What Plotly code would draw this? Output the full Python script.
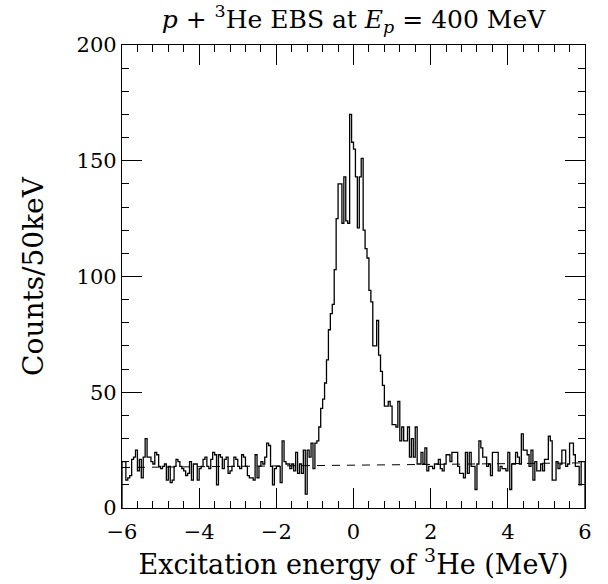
import numpy as np
import plotly.graph_objects as go

# ---- data -------------------------------------------------------------
# 50 keV bins from -6 MeV to +6 MeV (left edges), counts per bin
bin_width_mev = 0.05
energy_min, energy_max = -6.0, 6.0

counts_left_bg = [
    20, 20, 12, 13, 14, 21, 22, 25, 16, 21,
    13, 22, 30, 22, 22, 20, 19, 24, 23, 18,
    17, 18, 19, 12, 18, 11, 12, 18, 21, 20,
    18, 17, 16, 14, 15, 20, 12, 19, 19, 12,
    17, 18, 21, 22, 18, 17, 21, 24, 23, 10,
    23, 22, 17, 21, 22, 15, 16, 18, 22, 21,
    18, 17, 23, 22, 18, 14, 13, 13, 12, 23,
    13, 18, 20, 19, 22, 28, 27, 18, 10, 17,
    18, 18, 11, 29, 20, 19, 19,
]
counts_peak = [
    17, 19, 16, 24, 15, 19, 15, 25, 6, 25,
    22, 28, 17, 28, 29, 35, 43, 47, 54, 64,
    77, 84, 88, 103, 125, 140, 140, 123, 143, 124,
    123, 170, 158, 155, 143, 121, 143, 151, 120, 112,
    108, 94, 89,
]
counts_right_tail = [
    70, 70, 81, 66, 59, 53, 44, 44, 46, 44,
    36, 36, 35, 46, 29, 35, 29, 29, 35, 22,
    30, 22, 35, 19, 19, 24, 19, 26, 16, 18,
]
counts_right_bg = [
    18, 17, 19, 19, 21, 17, 16, 19, 23, 23,
    20, 24, 24, 24, 18, 15, 15, 13, 24, 15,
    24, 18, 18, 8, 19, 29, 26, 22, 22, 18,
    19, 14, 24, 24, 24, 16, 18, 17, 17, 16,
    24, 8, 19, 19, 24, 22, 19, 32, 25, 25,
    23, 18, 25, 12, 20, 16, 16, 19, 16, 21,
    21, 31, 29, 12, 12, 20, 17, 19, 25, 25,
    18, 19, 28, 28, 23, 18, 18, 10, 20, 20,
]

# fitted background (dashed line)
background_energy = [-6.0, 6.0]
background_counts = [17.5, 19.5]

# ---- build step histogram -------------------------------------------
counts = counts_left_bg + counts_peak + counts_right_tail + counts_right_bg
n_bins = len(counts)
edges = np.round(np.linspace(energy_min, energy_max, n_bins + 1), 4)

step_x = [energy_min] + list(edges[:-1]) + [energy_max, energy_max]
step_y = [0] + counts + [counts[-1], 0]

FONT = "DejaVu Serif"

fig = go.Figure()
fig.add_trace(go.Scatter(
    x=background_energy, y=background_counts, mode="lines",
    line=dict(color="black", width=1, dash="8px,7px"),
    hoverinfo="skip", showlegend=False,
))
fig.add_trace(go.Scatter(
    x=step_x, y=step_y, mode="lines",
    line=dict(color="black", width=1.3, shape="hv"),
    showlegend=False,
))

axis_common = dict(
    showgrid=False, zeroline=False, showline=True, linecolor="black",
    linewidth=1.3, mirror="allticks", ticks="inside", ticklen=20,
    tickwidth=1, tickcolor="black",
    tickfont=dict(family=FONT, size=21, color="black"),
)

fig.update_xaxes(
    range=[energy_min, energy_max], dtick=2, tick0=0,
    minor=dict(dtick=0.4, ticklen=7, ticks="inside", tickcolor="black", tickwidth=1),
    ticklabelstandoff=5,
    title=dict(text="Excitation energy of <sup>3</sup>He (MeV)",
               font=dict(family=FONT, size=27, color="black"), standoff=8),
    **axis_common,
)
fig.update_yaxes(
    range=[0, 200], dtick=50, tick0=0,
    minor=dict(dtick=10, ticklen=7, ticks="inside", tickcolor="black", tickwidth=1),
    title=dict(text="Counts/50keV",
               font=dict(family=FONT, size=28, color="black"), standoff=24),
    **axis_common,
)

fig.update_layout(
    width=608, height=584,
    margin=dict(l=122, r=23, t=45, b=76, autoexpand=False),
    paper_bgcolor="white", plot_bgcolor="white",
    title=dict(
        text="<i>p</i> + <sup>3</sup>He EBS at <i>E<sub>p</sub></i> = 400 MeV",
        font=dict(family=FONT, size=25, color="black"),
        x=0.5, xref="paper", xanchor="center",
        y=1 - 19 / 584, yref="container", yanchor="middle",
    ),
)

fig.write_html("out.html")
